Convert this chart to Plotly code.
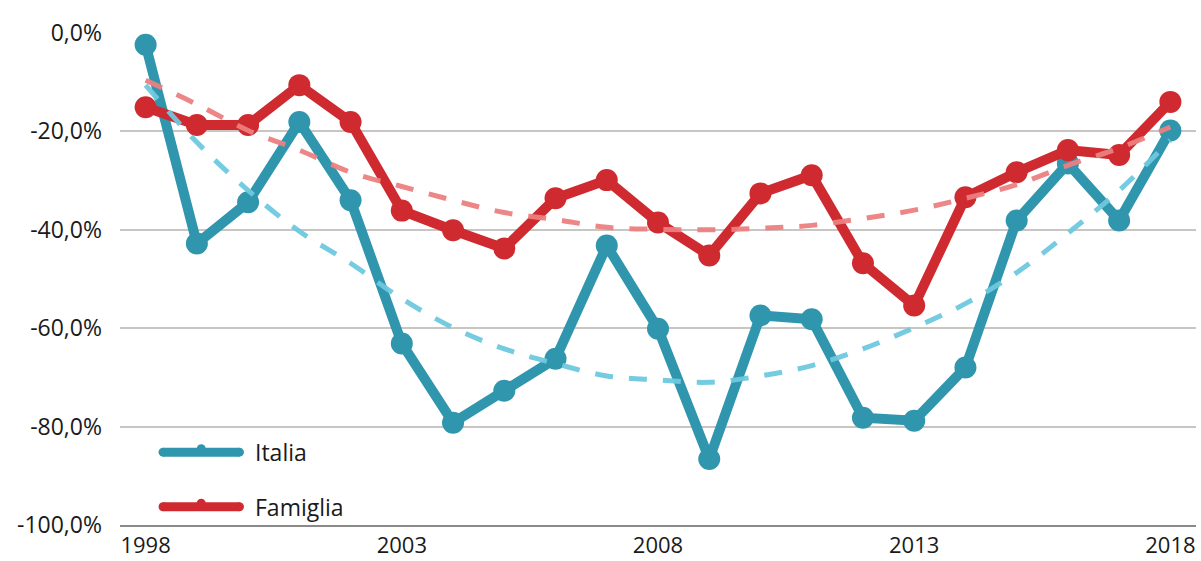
import plotly.graph_objects as go

# Years on the horizontal axis
years = list(range(1998, 2019))

# Yearly variation (%) for the two series
italia = [-2.4, -42.8, -34.4, -18.1, -34.0, -63.1, -79.2, -72.7, -66.2, -43.2,
          -60.1, -86.6, -57.4, -58.2, -78.2, -78.8, -68.0, -38.1, -26.5, -38.1, -19.8]
famiglia = [-15.1, -18.7, -18.7, -10.6, -18.1, -36.1, -40.1, -43.8, -33.6, -29.9,
            -38.5, -45.2, -32.6, -28.9, -46.8, -55.4, -33.4, -28.3, -23.8, -24.8, -14.0]

# Trend lines (%) per year
italia_trend = [-10.6, -22.2, -32.0, -40.3, -46.8, -54.0, -59.9, -64.2, -67.2, -69.7,
                -70.5, -71.0, -69.7, -67.6, -64.2, -59.9, -55.0, -48.7, -40.7, -32.0, -21.8]
famiglia_trend = [-9.6, -14.5, -19.8, -23.8, -28.3, -31.2, -34.0, -36.5, -37.9, -39.5,
                  -39.9, -40.0, -39.7, -39.1, -37.7, -36.0, -33.6, -30.8, -26.9, -23.4, -19.1]

# Axis ticks
x_ticks = [1998, 2003, 2008, 2013, 2018]
y_ticks = [0, -20, -40, -60, -80, -100]
y_ticktext = ["0,0%", "-20,0%", "-40,0%", "-60,0%", "-80,0%", "-100,0%"]

BLUE = "#2f96ad"
RED = "#cf2a2f"
BLUE_TREND = "rgba(110,200,222,0.95)"
RED_TREND = "rgba(236,128,128,0.95)"
FONT = "Open Sans"

fig = go.Figure()

fig.add_trace(go.Scatter(
    x=years, y=italia, mode="lines+markers", name="Italia",
    line=dict(color=BLUE, width=10),
    marker=dict(color=BLUE, size=22), cliponaxis=False, showlegend=False))
fig.add_trace(go.Scatter(
    x=years, y=famiglia, mode="lines+markers", name="Famiglia",
    line=dict(color=RED, width=10),
    marker=dict(color=RED, size=22), cliponaxis=False, showlegend=False))
fig.add_trace(go.Scatter(
    x=years, y=italia_trend, mode="lines", name="Tendenza Italia",
    line=dict(color=BLUE_TREND, width=5, dash="18px,16px", shape="spline"),
    showlegend=False))
fig.add_trace(go.Scatter(
    x=years, y=famiglia_trend, mode="lines", name="Tendenza Famiglia",
    line=dict(color=RED_TREND, width=5, dash="18px,16px", shape="spline"),
    showlegend=False))

# Legend drawn in paper space: thick rounded line with a small dot, then the label
legend_items = [("Italia", BLUE, 0.148), ("Famiglia", RED, 0.037)]
x0, x1 = 0.040, 0.111
for label, color, yy in legend_items:
    fig.add_shape(type="line", xref="paper", yref="paper",
                  x0=x0, x1=x1, y0=yy, y1=yy, line=dict(color=color, width=9))
    # rounded ends
    for xe in (x0, x1):
        fig.add_shape(type="circle", xref="paper", yref="paper",
                      x0=-4.5, x1=4.5, y0=-4.5, y1=4.5,
                      xsizemode="pixel", ysizemode="pixel",
                      xanchor=xe, yanchor=yy,
                      fillcolor=color, line=dict(width=0))
    # small marker dot in the middle
    fig.add_shape(type="circle", xref="paper", yref="paper",
                  x0=-4.5, x1=4.5, y0=-1, y1=8,
                  xsizemode="pixel", ysizemode="pixel",
                  xanchor=(x0 + x1) / 2, yanchor=yy,
                  fillcolor=color, line=dict(width=0))
    fig.add_annotation(x=x1 + 0.013, y=yy, xref="paper", yref="paper",
                       text=label, showarrow=False, xanchor="left", yanchor="middle",
                       font=dict(family=FONT, size=23, color="#1a1a1a"))

fig.update_layout(
    width=1201, height=561,
    margin=dict(l=120, r=5, t=33, b=36),
    plot_bgcolor="white", paper_bgcolor="white",
    font=dict(family=FONT, size=23, color="#1a1a1a"),
    xaxis=dict(range=[1997.5, 2018.5], tickvals=x_ticks,
               ticktext=[str(v) for v in x_ticks], automargin=False,
               tickfont=dict(size=22),
               showgrid=False, zeroline=False, showline=True,
               linecolor="#8c8a88", linewidth=2, ticks="", ticklabelstandoff=0),
    yaxis=dict(range=[-100, 0], tickvals=y_ticks, ticktext=y_ticktext,
               automargin=False,
               showgrid=True, gridcolor="#c9c5c3", gridwidth=2,
               zeroline=False, ticks="", ticklabelstandoff=17),
)

fig.write_html("out.html")
